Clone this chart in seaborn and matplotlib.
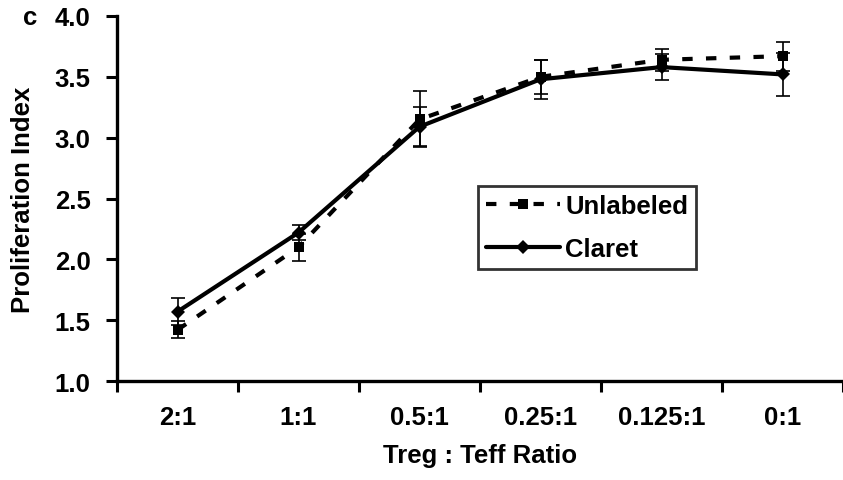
import numpy as np
import pandas as pd
import seaborn as sns
import matplotlib.pyplot as plt
from matplotlib.ticker import FixedLocator, FormatStrFormatter

ratios = ["2:1", "1:1", "0.5:1", "0.25:1", "0.125:1", "0:1"]
unlabeled = [1.42, 2.10, 3.15, 3.50, 3.64, 3.67]
unlabeled_err = [0.07, 0.11, 0.23, 0.14, 0.09, 0.12]
claret = [1.57, 2.22, 3.09, 3.48, 3.58, 3.52]
claret_err = [0.11, 0.06, 0.16, 0.16, 0.11, 0.18]

df = pd.DataFrame({
    "ratio": ratios * 2,
    "index": unlabeled + claret,
    "label": ["Unlabeled"] * len(ratios) + ["Claret"] * len(ratios),
})

sns.set_style("white")
plt.rcParams['font.family'] = ['Liberation Sans', 'DejaVu Sans']
plt.rcParams['font.weight'] = 'bold'
for k in ["text.color", "axes.labelcolor", "xtick.color", "ytick.color", "axes.edgecolor"]:
    plt.rcParams[k] = "black"
fs = 18.5

fig = plt.figure(figsize=(8.43, 4.81), dpi=100)
ax = fig.add_axes([117/843, 1 - 382/481, 726/843, 365/481])

sns.lineplot(data=df, x="ratio", y="index", hue="label", style="label",
             hue_order=["Unlabeled", "Claret"], style_order=["Unlabeled", "Claret"],
             palette=["black", "black"], markers={"Unlabeled": "s", "Claret": "D"},
             dashes={"Unlabeled": (2.5, 3.2), "Claret": ""},
             linewidth=3, markersize=7.5, markeredgewidth=0, sort=False, ax=ax)

for vals, errs in [(unlabeled, unlabeled_err), (claret, claret_err)]:
    ax.errorbar(ratios, vals, yerr=errs, fmt="none", ecolor="black",
                elinewidth=1.2, capsize=5, capthick=1.2, zorder=3)

ax.set_xlim(-0.5, 5.5)
ax.set_ylim(1.0, 4.0)
ax.set_yticks(np.arange(1.0, 4.01, 0.5))
ax.yaxis.set_major_formatter(FormatStrFormatter("%.1f"))
ax.xaxis.set_minor_locator(FixedLocator(np.arange(-0.5, 5.6, 1.0)))
ax.set_xticks(range(len(ratios)))
ax.set_xticklabels(ratios, fontweight="bold")
ax.tick_params(axis="x", which="major", bottom=True, length=0, pad=17, labelsize=fs)
ax.tick_params(axis="x", which="minor", bottom=True, length=8, width=2.2, direction="out")
ax.tick_params(axis="y", left=True, length=8, width=2.2, direction="out", pad=11, labelsize=fs)

for s in ["top", "right"]:
    ax.spines[s].set_visible(False)
for s in ["left", "bottom"]:
    ax.spines[s].set_linewidth(2.4)

ax.set_xlabel("Treg : Teff Ratio", fontsize=fs, fontweight="bold", labelpad=10)
ax.set_ylabel("Proliferation Index", fontsize=fs, fontweight="bold", labelpad=14)

leg = ax.legend(loc="upper left", bbox_to_anchor=(0.497, 0.534), borderaxespad=0,
                fontsize=fs, frameon=True, fancybox=False, handlelength=2.9,
                handletextpad=0.2, labelspacing=0.75, borderpad=0.3, title=None)
leg.get_frame().set_edgecolor("black")
leg.get_frame().set_linewidth(2)
for t in leg.get_texts():
    t.set_fontweight("bold")

fig.text(0.027, 0.962, "c", fontsize=fs, fontweight="bold", va="center")

fig.savefig("out.png", dpi=100)
